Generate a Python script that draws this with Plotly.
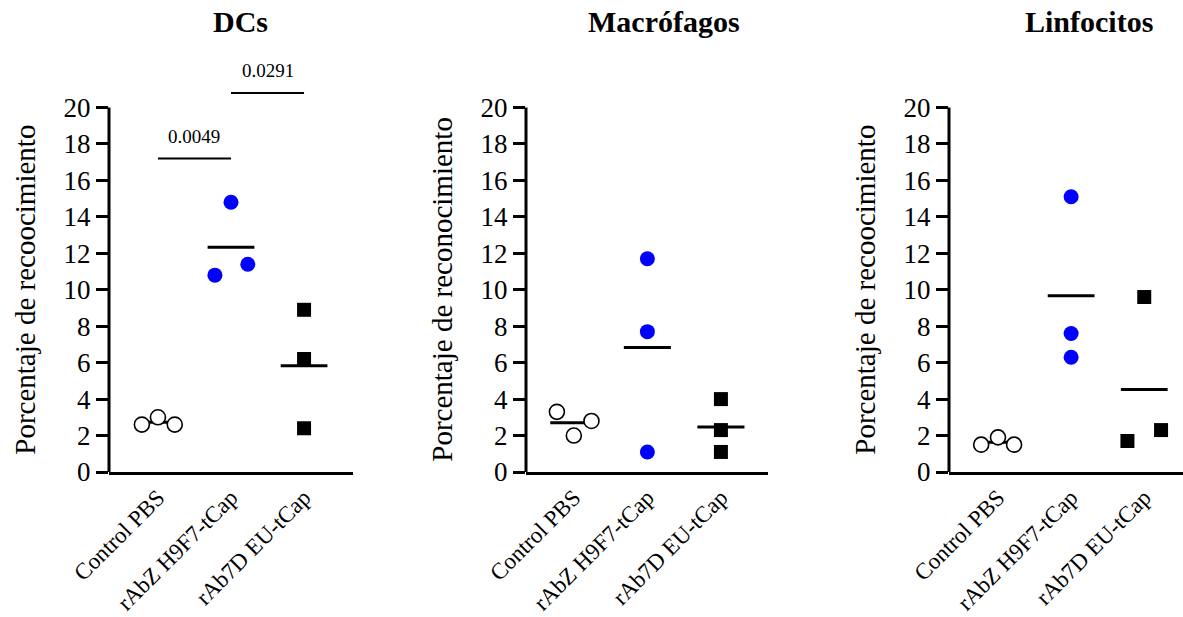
import numpy as np
import plotly.graph_objects as go

# Groups shown on every panel
categories = ["Control PBS", "rAbZ H9F7-tCap", "rAb7D EU-tCap"]
panel_titles = ["DCs", "Macrófagos", "Linfocitos"]
y_titles = ["Porcentaje de recoocimiento", "Porcentaje de reconocimiento", "Porcentaje de recoocimiento"]
y_ticks = list(range(0, 21, 2))

# Percentage of recognition per replicate
dc_control = [2.6, 3.0, 2.6]
dc_h9f7 = [10.8, 14.8, 11.4]
dc_eu = [8.9, 6.2, 2.4]

mac_control = [3.3, 2.0, 2.8]
mac_h9f7 = [11.7, 7.7, 1.1]
mac_eu = [4.0, 2.3, 1.1]

lin_control = [1.5, 1.9, 1.5]
lin_h9f7 = [15.1, 7.6, 6.3]
lin_eu = [1.7, 9.6, 2.3]

# p-values for the DCs comparisons (group a, group b, label)
dc_pvalues = [(0, 1, "0.0049"), (1, 2, "0.0291")]

panels = [
    [dc_control, dc_h9f7, dc_eu],
    [mac_control, mac_h9f7, mac_eu],
    [lin_control, lin_h9f7, lin_eu],
]

# horizontal spread of replicate points inside each group (axis units)
spread = [
    [[-0.22, 0.0, 0.23], [-0.22, 0.0, 0.23], [0.0, 0.0, 0.0]],
    [[-0.23, 0.0, 0.24], [0.0, 0.0, 0.0], [0.0, 0.0, 0.0]],
    [[-0.23, 0.0, 0.22], [0.0, 0.0, 0.0], [-0.23, 0.0, 0.23]],
]

W, H = 1183, 617
FONT = "Liberation Serif, Times New Roman, Times, serif"
BLUE = "rgb(0,0,255)"

x_domains = [[109 / W, 353 / W], [526 / W, 768 / W], [949 / W, 1.0]]
x_ranges = [[-0.67, 2.67], [-0.65, 2.64], [-0.67, 2.53]]
y_domain = [(H - 472) / H, (H - 20) / H]
y_range = [0, 24.8]
title_x = [240 / W, 664 / W, 1089 / W]

marker_styles = [
    dict(symbol="circle", size=15, color="white", line=dict(color="black", width=1.6)),
    dict(symbol="circle", size=15, color=BLUE, line=dict(width=0)),
    dict(symbol="square", size=14, color="black", line=dict(width=0)),
]

fig = go.Figure()
shapes = []
annotations = []

for p, groups in enumerate(panels):
    sfx = "" if p == 0 else str(p + 1)
    xa, ya = "x" + sfx, "y" + sfx

    # group means, drawn under the points
    for g, vals in enumerate(groups):
        m = float(np.mean(vals))
        fig.add_trace(go.Scatter(
            x=[g - 0.32, g + 0.32], y=[m, m], mode="lines",
            line=dict(color="black", width=3),
            xaxis=xa, yaxis=ya, showlegend=False, hoverinfo="skip"))
    for g, vals in enumerate(groups):
        fig.add_trace(go.Scatter(
            x=[g + d for d in spread[p][g]], y=vals, mode="markers",
            marker=marker_styles[g], xaxis=xa, yaxis=ya,
            showlegend=False, cliponaxis=False))

    fig.layout["xaxis" + sfx] = dict(
        domain=x_domains[p], range=x_ranges[p], anchor=ya,
        tickmode="array", tickvals=[0, 1, 2], ticktext=categories,
        tickangle=-45, ticks="", showline=True, linewidth=3, linecolor="black",
        showgrid=False, zeroline=False, automargin=False,
        tickfont=dict(family=FONT, size=23, color="black"))
    fig.layout["yaxis" + sfx] = dict(
        domain=y_domain, range=y_range, anchor=xa,
        tickmode="array", tickvals=y_ticks,
        ticks="outside", ticklen=12, tickwidth=3, tickcolor="black",
        showline=False, showgrid=False, zeroline=False, automargin=False,
        tickfont=dict(family=FONT, size=27, color="black"))

    # vertical axis spine, stopping at the last tick
    shapes.append(dict(type="line", xref=xa + " domain", yref=ya,
                       x0=0, x1=0, y0=0, y1=y_ticks[-1],
                       line=dict(color="black", width=3)))

    annotations.append(dict(
        text=y_titles[p], xref=xa + " domain", yref=ya, x=0,
        y=(y_ticks[0] + y_ticks[-1]) / 2, xshift=-84, textangle=-90,
        showarrow=False, xanchor="center", yanchor="middle",
        font=dict(family=FONT, size=29, color="black")))
    annotations.append(dict(
        text=panel_titles[p], xref="paper", yref="paper",
        x=title_x[p], y=1 - 22 / H, showarrow=False,
        xanchor="center", yanchor="middle",
        font=dict(family=FONT, size=30, color="black", weight="bold")))

# significance brackets on the DCs panel
bar_levels = [17.2, 20.8]
for (a, b, label), lvl in zip(dc_pvalues, bar_levels):
    shapes.append(dict(type="line", xref="x", yref="y", x0=a, x1=b,
                       y0=lvl, y1=lvl, line=dict(color="black", width=2)))
    annotations.append(dict(text=label, xref="x", yref="y", x=(a + b) / 2,
                            y=lvl, yshift=22, showarrow=False,
                            xanchor="center", yanchor="middle",
                            font=dict(family=FONT, size=19, color="black")))

fig.update_layout(
    width=W, height=H, template="none",
    margin=dict(l=0, r=0, t=0, b=0),
    paper_bgcolor="white", plot_bgcolor="white",
    font=dict(family=FONT, color="black"),
    shapes=shapes, annotations=annotations, showlegend=False)

fig.write_html("out.html")
